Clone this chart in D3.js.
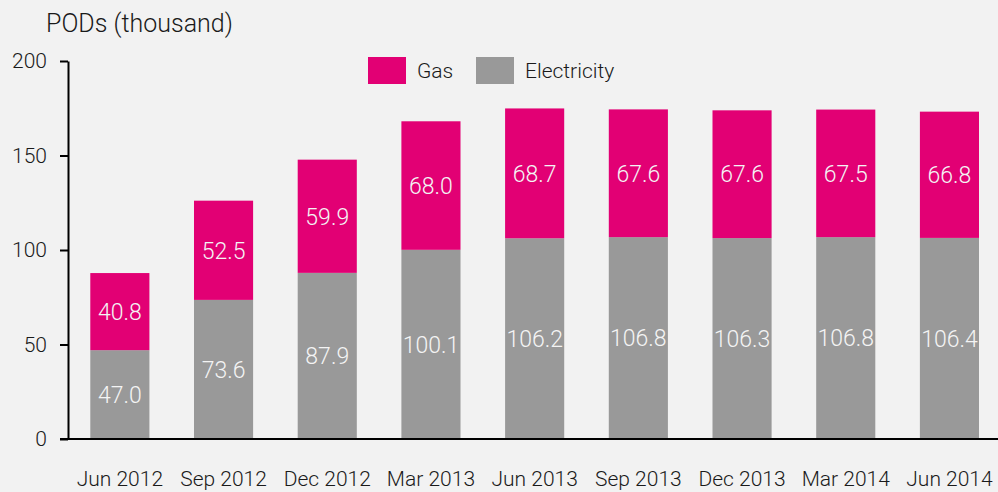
<!DOCTYPE html>
<html>
<head>
<meta charset="utf-8">
<script src="https://cdn.jsdelivr.net/npm/d3@7"></script>
<style>
  body { margin: 0; background: #f2f2f2; }
  text { font-family: Roboto, "Liberation Sans", sans-serif; font-weight: 300; }
</style>
</head>
<body>
<div id="chart"></div>
<script>
var categories = ["Jun 2012","Sep 2012","Dec 2012","Mar 2013","Jun 2013","Sep 2013","Dec 2013","Mar 2014","Jun 2014"];
var electricity = [47.0, 73.6, 87.9, 100.1, 106.2, 106.8, 106.3, 106.8, 106.4];
var gas = [40.8, 52.5, 59.9, 68.0, 68.7, 67.6, 67.6, 67.5, 66.8];
var yTicks = [0, 50, 100, 150, 200];
var seriesNames = ["Gas", "Electricity"];

var W = 998, H = 492;
var x0 = 68, y0 = 439, yTop = 61;

var svg = d3.select("#chart").append("svg")
    .attr("width", W).attr("height", H)
    .style("background", "#f2f2f2");

var color = d3.scaleOrdinal().domain(seriesNames).range(["#e20074", "#999999"]);

var rows = categories.map(function(c, i) {
    return {cat: c, Electricity: electricity[i], Gas: gas[i]};
});

var stacked = d3.stack().keys(["Electricity", "Gas"])(rows);

var x = d3.scaleBand()
    .domain(categories)
    .range([x0, x0 + 9 * 103.7])
    .paddingInner(0.43)
    .paddingOuter(0.215);

var y = d3.scaleLinear().domain([0, 200]).range([y0, yTop]);

// bars
svg.append("g").selectAll("g")
    .data(stacked)
    .enter().append("g")
    .attr("fill", function(d) { return color(d.key); })
    .selectAll("rect")
    .data(function(d) { return d; })
    .enter().append("rect")
    .attr("x", function(d) { return x(d.data.cat); })
    .attr("y", function(d) { return y(d[1]); })
    .attr("height", function(d) { return y(d[0]) - y(d[1]); })
    .attr("width", x.bandwidth());

// value labels
svg.append("g").selectAll("g")
    .data(stacked)
    .enter().append("g")
    .selectAll("text")
    .data(function(d) { return d.map(function(v) { return {v: v, key: d.key}; }); })
    .enter().append("text")
    .attr("x", function(d) { return x(d.v.data.cat) + x.bandwidth() / 2; })
    .attr("y", function(d) { return (y(d.v[0]) + y(d.v[1])) / 2; })
    .attr("dy", "0.36em")
    .attr("text-anchor", "middle")
    .style("font-size", "23px")
    .attr("fill", "#f4f4f4")
    .text(function(d) { return d.v.data[d.key].toFixed(1); });

// y axis
var yAxis = svg.append("g")
    .attr("transform", "translate(" + x0 + ",0)")
    .call(d3.axisLeft(y).tickValues(yTicks).tickSize(8).tickSizeOuter(0).tickPadding(13));
yAxis.select(".domain").attr("stroke", "#000").attr("stroke-width", 2);
yAxis.selectAll(".tick line").attr("stroke", "#000").attr("stroke-width", 2);
yAxis.selectAll(".tick text").style("font-size", "21px").attr("fill", "#1a1a1a");

// x axis
var xAxis = svg.append("g")
    .attr("transform", "translate(0," + y0 + ")")
    .call(d3.axisBottom(x).tickSize(0).tickPadding(32));
xAxis.select(".domain").attr("d", "M" + (x0 - 8) + ",0H" + W).attr("stroke", "#000").attr("stroke-width", 2);
xAxis.selectAll(".tick text").style("font-size", "21px").attr("fill", "#1a1a1a");

// title
svg.append("text")
    .attr("x", 46).attr("y", 32)
    .style("font-size", "25px")
    .attr("fill", "#1a1a1a")
    .text("PODs (thousand)");

// legend
var legendX = [368, 476];
seriesNames.forEach(function(s, i) {
    svg.append("rect").attr("x", legendX[i]).attr("y", 57).attr("width", 38).attr("height", 27).attr("fill", color(s));
    svg.append("text").attr("x", legendX[i] + 49).attr("y", 78).style("font-size", "21px").attr("fill", "#1a1a1a").text(s);
});
</script>
</body>
</html>
